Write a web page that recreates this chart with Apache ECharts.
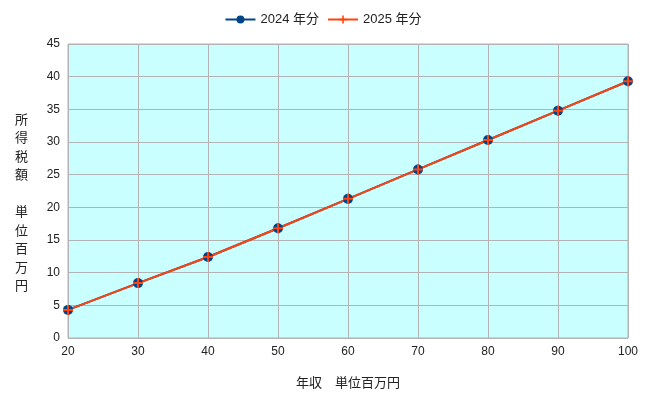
<!DOCTYPE html>
<html>
<head>
<meta charset="utf-8">
<script src="https://cdn.jsdelivr.net/npm/echarts@6/dist/echarts.min.js"></script>
<style>html,body{margin:0;padding:0;background:#fff}#container{width:646px;height:408px}</style>
</head>
<body>
<div id="container"></div>
<script>
var incomes = [20, 30, 40, 50, 60, 70, 80, 90, 100];
var tax2024 = [4.3, 8.4, 12.4, 16.8, 21.3, 25.8, 30.3, 34.8, 39.3];
var tax2025 = [4.3, 8.4, 12.4, 16.8, 21.3, 25.8, 30.3, 34.8, 39.3];

var dom = document.getElementById("container");
var myChart = echarts.init(dom);
var font = "'Liberation Sans', 'Noto Sans CJK JP', sans-serif";
var crossPath = "path://M4,0h2v4h4v2h-4v4h-2v-4h-4v-2h4z";

function pairs(vals) {
  return incomes.map(function (x, i) { return [x, vals[i]]; });
}

var option = {
  animation: false,
  textStyle: { fontFamily: font },
  legend: {
    top: 8,
    itemWidth: 30, itemHeight: 10,
    textStyle: { fontSize: 13, color: "#222", fontFamily: font },
    data: ["2024 年分", "2025 年分"]
  },
  grid: {
    left: 68, right: 18, top: 44, bottom: 70,
    show: true, backgroundColor: "#c9ffff", borderColor: "#b3b3b3", borderWidth: 1
  },
  xAxis: {
    type: "value", min: 20, max: 100, interval: 10,
    name: "年収　単位百万円", nameLocation: "middle", nameGap: 39,
    nameTextStyle: { fontSize: 13, color: "#222" },
    axisLine: { show: false }, axisTick: { show: false },
    axisLabel: { color: "#222", fontSize: 12 },
    splitLine: { lineStyle: { color: "#b3b3b3" } }
  },
  yAxis: {
    type: "value", min: 0, max: 45, interval: 5,
    axisLine: { show: false }, axisTick: { show: false },
    axisLabel: { color: "#222", fontSize: 12, margin: 8 },
    splitLine: { lineStyle: { color: "#b3b3b3" } }
  },
  graphic: [{
    type: "text", left: 15, top: 111,
    style: {
      text: "所\n得\n税\n額\n\n単\n位\n百\n万\n円",
      font: "13px " + font, fill: "#222", lineHeight: 18.5
    }
  }],
  series: [
    {
      name: "2024 年分", type: "line", data: pairs(tax2024),
      symbol: "circle", symbolSize: 10,
      itemStyle: { color: "#004586" }, lineStyle: { color: "#004586", width: 2 }
    },
    {
      name: "2025 年分", type: "line", data: pairs(tax2025),
      symbol: crossPath, symbolSize: 10,
      itemStyle: { color: "#ff420e" }, lineStyle: { color: "#ff420e", width: 2 }
    }
  ]
};
myChart.setOption(option, true);
</script>
</body>
</html>
